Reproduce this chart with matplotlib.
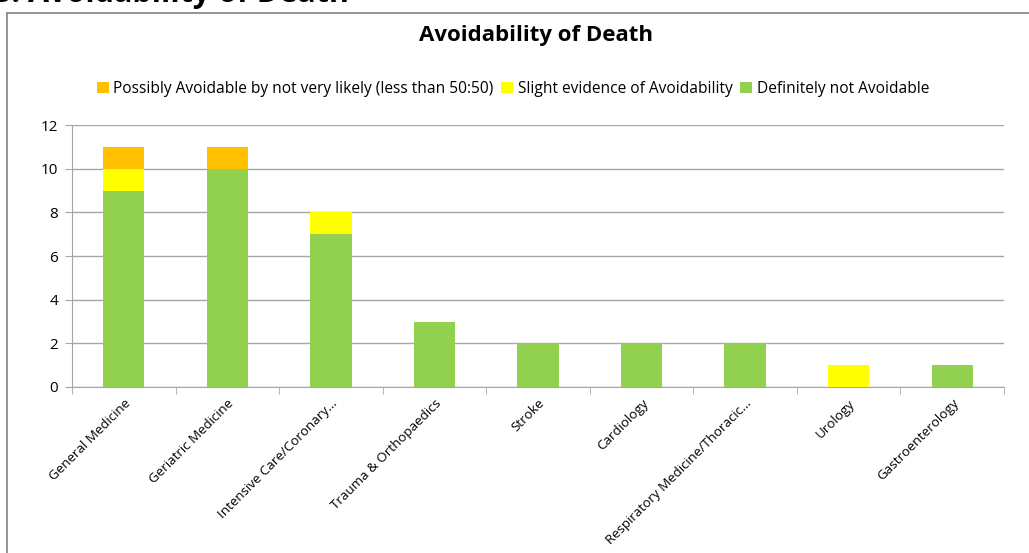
import matplotlib.pyplot as plt
import numpy as np
from matplotlib.lines import Line2D

plt.rcParams['font.family'] = ['Open Sans', 'DejaVu Sans']

# Deaths by specialty and avoidability rating
specialties = ['General Medicine', 'Geriatric Medicine', 'Intensive Care/Coronary...',
               'Trauma & Orthopaedics', 'Stroke', 'Cardiology',
               'Respiratory Medicine/Thoracic...', 'Urology', 'Gastroenterology']
not_avoidable = [9, 10, 7, 3, 2, 2, 2, 0, 1]
slight_evidence = [1, 0, 1, 0, 0, 0, 0, 1, 0]
possibly_avoidable = [1, 1, 0, 0, 0, 0, 0, 0, 0]

series_names = ['Possibly Avoidable by not very likely (less than 50:50)',
                'Slight evidence of Avoidability', 'Definitely not Avoidable']
colors = ['#FFC000', '#FFFF00', '#92D050']
yticks = [0, 2, 4, 6, 8, 10, 12]

fig = plt.figure(figsize=(10.29, 5.53), dpi=100)
W, H = 1029, 553

# outer chart frame (only left and top edges visible)
frame_col = '#8c8c8c'
fig.add_artist(Line2D([7 / W, 7 / W], [0, 1 - 13 / H], color=frame_col, lw=1.3))
fig.add_artist(Line2D([7 / W, 1], [1 - 13 / H, 1 - 13 / H], color=frame_col, lw=1.3))

# section heading, partly cut off at the top edge
fig.text(-6 / W, 1 + 6 / H, '3. Avoidability of Death', fontsize=22, fontweight='bold',
         ha='left', va='center', color='black')

ax = fig.add_axes([72 / W, 1 - 387 / H, (1004 - 72) / W, (387 - 125) / H])
x = np.arange(len(specialties))
bw = 0.4
green = np.array(not_avoidable)
yellow = np.array(slight_evidence)
orange = np.array(possibly_avoidable)
ax.bar(x, green, bw, color=colors[2], zorder=3, label=series_names[2])
ax.bar(x, yellow, bw, bottom=green, color=colors[1], zorder=3, label=series_names[1])
ax.bar(x, orange, bw, bottom=green + yellow, color=colors[0], zorder=3, label=series_names[0])

ax.set_xlim(-0.5, len(specialties) - 0.5)
ax.set_ylim(0, 12)
ax.set_yticks(yticks)
ax.tick_params(axis='y', length=5, color='#a6a6a6', labelsize=11, pad=5)
ax.yaxis.grid(True, color='#a6a6a6', lw=1, zorder=0)

ax.set_xticks(x)
ax.set_xticklabels(specialties, rotation=45, ha='right', rotation_mode='anchor', fontsize=9.6)
ax.tick_params(axis='x', which='major', length=0, pad=7)
ax.set_xticks(np.arange(len(specialties) + 1) - 0.5, minor=True)
ax.tick_params(axis='x', which='minor', length=5, color='#a6a6a6')

for side in ['top', 'right']:
    ax.spines[side].set_visible(False)
ax.spines['left'].set_color('#a6a6a6')
ax.spines['bottom'].set_color('#a6a6a6')

fig.text(536 / W, 1 - 35 / H, 'Avoidability of Death', fontsize=16, fontweight='bold',
         ha='center', va='center')

handles, labels = ax.get_legend_handles_labels()
fig.legend(handles[::-1], labels[::-1], loc='center', bbox_to_anchor=(513 / W, 1 - 89 / H),
           ncol=3, frameon=False, fontsize=11.2, handlelength=0.75, handleheight=0.75,
           handletextpad=0.3, columnspacing=0.5)

fig.savefig('out.png', dpi=100)
